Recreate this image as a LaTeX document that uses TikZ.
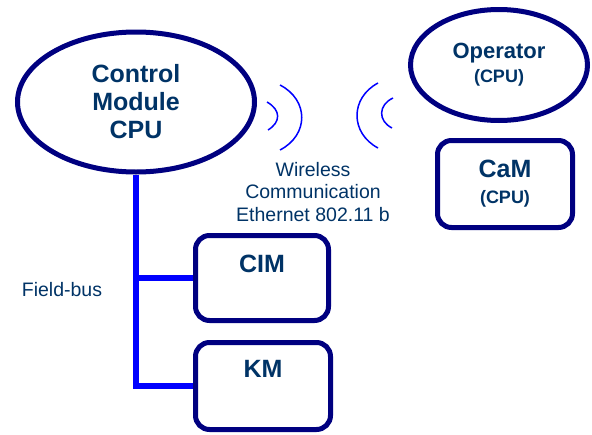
\documentclass[tikz,border=0pt]{standalone}
\usepackage{fontspec}
\setmainfont{Liberation Sans}
\usetikzlibrary{shapes.geometric}
\definecolor{framenavy}{RGB}{0,0,128}
\definecolor{textnavy}{RGB}{0,51,102}
\definecolor{busblue}{RGB}{0,0,255}
\begin{document}
\begin{tikzpicture}[
    x=1pt,y=-1pt,
    cpu/.style={ellipse,draw=framenavy,line width=5pt,inner sep=0pt,align=center,
      text=textnavy,font=\fontsize{25}{28}\selectfont\bfseries},
    unit/.style={rectangle,rounded corners=14pt,draw=framenavy,line width=5pt,
      inner sep=0pt,align=center,text=textnavy,font=\fontsize{25}{28}\selectfont\bfseries},
    small/.style={font=\fontsize{19}{26}\selectfont\bfseries},
    note/.style={align=center,text=textnavy,font=\fontsize{19.5}{22.5}\selectfont},
    bus/.style={draw=busblue,line width=6pt},
    wave/.style={draw=busblue,line width=1.5pt}
  ]
    \useasboundingbox (0,0) rectangle (592,434);

    \node[cpu,minimum width=237,minimum height=140] (cm) at (136,102) {Control\\Module\\CPU};
    \node[cpu,minimum width=177,minimum height=111,font=\fontsize{22}{26}\selectfont\bfseries]
      (op) at (499,65) {Operator\\[-2pt]{\fontsize{18}{22}\selectfont (CPU)}};
    \node[unit,minimum width=135,minimum height=87] (cam) at (505,184)
      {CaM\\[-2pt]{\fontsize{18}{22}\selectfont (CPU)}};
    \node[unit,minimum width=133,minimum height=85] (cim) at (262,278) {CIM\\~};
    \node[unit,minimum width=135,minimum height=87] (km) at (263,386) {KM\\[6pt]~};

    \node[note] (fieldbus) at (62,290) {Field-bus};
    \node[note] (wireless) at (313,192) {Wireless\\Communication\\Ethernet 802.11 b};

    % field-bus
    \draw[bus] (cm.south) |- (km.west);
    \draw[bus] (cim.west) -- (cim.west -| cm.south);

    % radio waves
    \draw[wave] (267,102) .. controls (281,110) and (281,122) .. (268,130);
    \draw[wave] (280,85) .. controls (309,100) and (309,135) .. (280,150);
    \draw[wave] (378,83) .. controls (350,98) and (350,133) .. (378,148);
    \draw[wave] (393,98) .. controls (378,105) and (378,121) .. (392,128);
  \end{tikzpicture}
\end{document}
